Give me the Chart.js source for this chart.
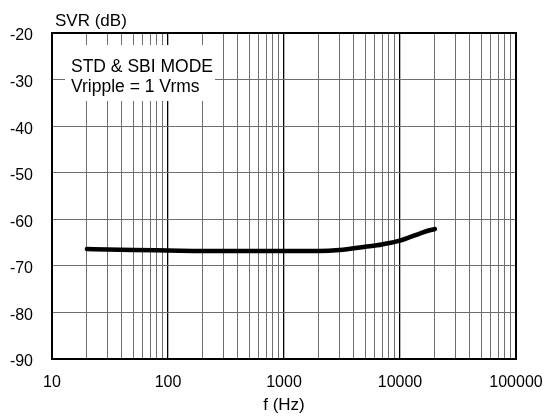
<!DOCTYPE html>
<html><head><meta charset="utf-8">
<script src="https://cdn.jsdelivr.net/npm/chart.js@4/dist/chart.umd.min.js"></script>
<style>html,body{margin:0;padding:0;background:#fff}#wrap{width:544px;height:418px}</style>
</head><body><div id="wrap"><canvas id="c" width="544" height="418"></canvas></div>
<script>
const freqHz = [20, 30, 50, 100, 200, 500, 1000, 2000, 3000, 5000, 7000, 10000, 12000, 15000, 18000, 20000];
const svrDb  = [-66.4, -66.5, -66.6, -66.7, -66.8, -66.8, -66.8, -66.8, -66.6, -65.9, -65.4, -64.6, -63.9, -63.0, -62.35, -62.1];
const decadeTicks = [10, 100, 1000, 10000, 100000];
const minorSteps = [2, 3, 4, 5, 6, 7, 8, 9];
const yTicks = [-90, -80, -70, -60, -50, -40, -30, -20];
const yTitle = 'SVR (dB)';
const xTitle = 'f (Hz)';
const noteLines = ['STD & SBI MODE', 'Vripple = 1 Vrms'];

const FONT = "'Liberation Sans', Arial, sans-serif";
const xTickValues = [];
decadeTicks.forEach((d, i) => {
  xTickValues.push(d);
  if (i < decadeTicks.length - 1) minorSteps.forEach(m => xTickValues.push(d * m));
});
const isDecade = v => decadeTicks.includes(v);

const overlay = {
  id: 'overlay',
  beforeDatasetsDraw(chart) {
    const ctx = chart.ctx, a = chart.chartArea;
    ctx.save();
    ctx.fillStyle = '#fff';
    ctx.fillRect(a.left + 13, a.top + 12, 150, 56);
    ctx.fillStyle = '#000';
    ctx.font = '17.5px ' + FONT;
    ctx.textBaseline = 'alphabetic';
    ctx.textAlign = 'left';
    ctx.fillText(noteLines[0], a.left + 19, a.top + 39);
    ctx.fillText(noteLines[1], a.left + 19, a.top + 59);
    ctx.restore();
  },
  afterDraw(chart) {
    const ctx = chart.ctx, a = chart.chartArea;
    ctx.save();
    ctx.strokeStyle = '#000';
    ctx.lineWidth = 2;
    ctx.strokeRect(a.left, a.top, a.right - a.left, a.bottom - a.top);
    ctx.fillStyle = '#000';
    ctx.font = '17px ' + FONT;
    ctx.textAlign = 'left';
    ctx.textBaseline = 'alphabetic';
    ctx.fillText(yTitle, 55, 26);
    ctx.restore();
  }
};

new Chart(document.getElementById('c'), {
  type: 'line',
  data: {
    datasets: [{
      data: freqHz.map((f, i) => ({x: f, y: svrDb[i]})),
      borderColor: '#000',
      borderWidth: 4.5,
      borderCapStyle: 'round',
      borderJoinStyle: 'round',
      pointRadius: 0,
      cubicInterpolationMode: 'monotone',
      fill: false
    }]
  },
  options: {
    responsive: false,
    animation: false,
    devicePixelRatio: 1,
    layout: {padding: {left: 0, right: 28, top: 33, bottom: 0}},
    plugins: {legend: {display: false}, tooltip: {enabled: false}},
    scales: {
      x: {
        type: 'logarithmic',
        min: 10, max: 100000,
        afterBuildTicks(scale) {
          scale.ticks = xTickValues.map(v => ({value: v, major: isDecade(v)}));
        },
        afterFit(scale) { scale.height = 59; scale.paddingLeft = 0; scale.paddingRight = 0; },
        grid: {
          drawTicks: false,
          color: ctx => (ctx.tick && isDecade(ctx.tick.value)) ? '#000' : '#6e6e6e',
          lineWidth: ctx => (ctx.tick && isDecade(ctx.tick.value)) ? 1.3 : 1
        },
        border: {display: true, color: '#000', width: 2},
        ticks: {
          autoSkip: false, maxRotation: 0, padding: 14,
          color: '#000', font: {family: FONT, size: 16},
          callback: v => isDecade(v) ? String(v) : ''
        },
        title: {display: true, text: xTitle, color: '#000', font: {family: FONT, size: 17}, padding: {top: 0, bottom: 2}}
      },
      y: {
        min: -90, max: -20,
        afterBuildTicks(scale) { scale.ticks = yTicks.map(v => ({value: v})); },
        afterFit(scale) { scale.width = 52; scale.paddingTop = 0; scale.paddingBottom = 0; },
        grid: {drawTicks: false, color: '#6e6e6e', lineWidth: 1},
        border: {display: true, color: '#000', width: 2},
        ticks: {padding: 19, labelOffset: 3, color: '#000', font: {family: FONT, size: 16}}
      }
    }
  },
  plugins: [overlay]
});
</script></body></html>
